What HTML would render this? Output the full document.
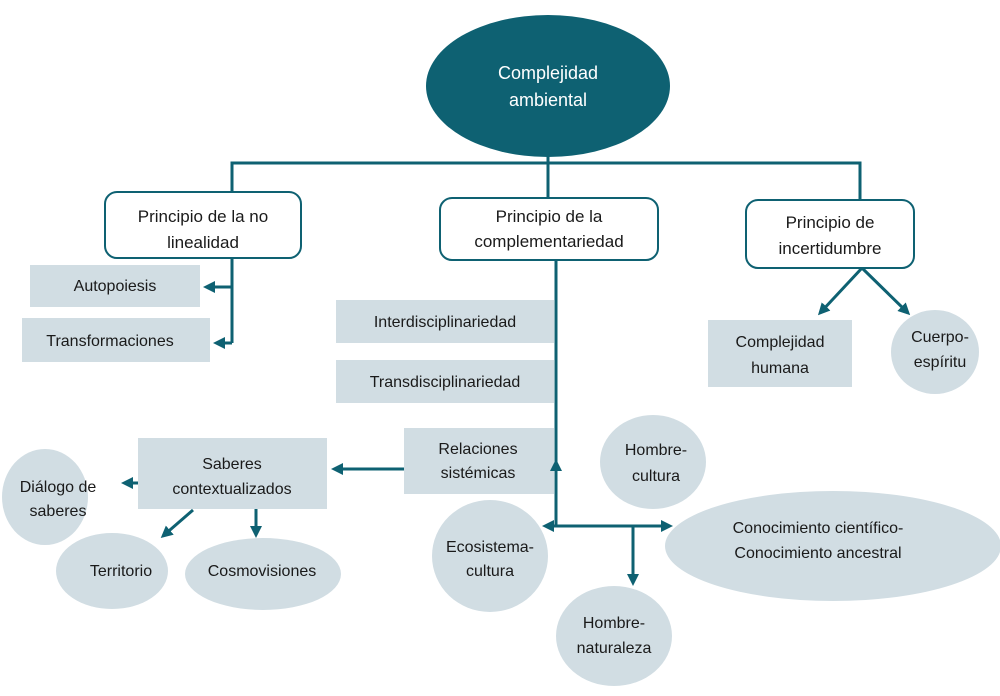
<!DOCTYPE html>
<html><head><meta charset="utf-8"><style>
html,body{margin:0;padding:0;background:#fff;}
svg{display:block;}
text{font-family:"Liberation Sans",sans-serif;font-size:16px;fill:#1a1a1a;text-anchor:middle;}
</style></head><body>
<svg width="1000" height="696" viewBox="0 0 1000 696">
<defs>
<marker id="b" markerWidth="12" markerHeight="12" refX="9" refY="6" orient="auto" markerUnits="userSpaceOnUse"><path d="M0,0 L12,6 L0,12 Z" fill="#0e6172"/></marker>
</defs>
<ellipse cx="548" cy="86" rx="122" ry="71" fill="#0e6172"/>
<text x="548" y="79" style="fill:#fff;font-size:18px">Complejidad</text>
<text x="548" y="106" style="fill:#fff;font-size:18px">ambiental</text>
<g fill="#d1dde3">
<rect x="30" y="265" width="170" height="42"/>
<rect x="22" y="318" width="188" height="44"/>
<rect x="336" y="300" width="218" height="43"/>
<rect x="336" y="360" width="218" height="43"/>
<rect x="404" y="428" width="150" height="66"/>
<rect x="138" y="438" width="189" height="71"/>
<rect x="708" y="320" width="144" height="67"/>
<ellipse cx="45" cy="497" rx="43" ry="48"/>
<ellipse cx="112" cy="571" rx="56" ry="38"/>
<ellipse cx="263" cy="574" rx="78" ry="36"/>
<ellipse cx="490" cy="556" rx="58" ry="56"/>
<ellipse cx="653" cy="462" rx="53" ry="47"/>
<ellipse cx="833" cy="546" rx="168" ry="55"/>
<ellipse cx="614" cy="636" rx="58" ry="50"/>
<ellipse cx="935" cy="352" rx="44" ry="42"/>
</g>
<g stroke="#0e6172" stroke-width="3" fill="none">
<path d="M232 192 V163 H860 V200"/>
<path d="M548 150 V200"/>
<path d="M232 258 V343"/>
<path d="M232 287 H206" marker-end="url(#b)"/>
<path d="M232 343 H216" marker-end="url(#b)"/>
<path d="M556 260 V526"/>
<path d="M556 480 V462" marker-end="url(#b)"/>
<path d="M404 469 H334" marker-end="url(#b)"/>
<path d="M138 483 H124" marker-end="url(#b)"/>
<path d="M193 510 L163 536" marker-end="url(#b)"/>
<path d="M256 509 V535" marker-end="url(#b)"/>
<path d="M556 526 H545" marker-end="url(#b)"/>
<path d="M556 526 H670" marker-end="url(#b)"/>
<path d="M633 526 V583" marker-end="url(#b)"/>
<path d="M862 268 L820 313" marker-end="url(#b)"/>
<path d="M862 268 L908 313" marker-end="url(#b)"/>
</g>
<g fill="#fff" stroke="#0e6172" stroke-width="2">
<rect x="105" y="192" width="196" height="66" rx="12"/>
<rect x="440" y="198" width="218" height="62" rx="12"/>
<rect x="746" y="200" width="168" height="68" rx="12"/>
</g>
<text x="203" y="222" style="font-size:17px">Principio de la no</text>
<text x="203" y="248" style="font-size:17px">linealidad</text>
<text x="549" y="222" style="font-size:17px">Principio de la</text>
<text x="549" y="247" style="font-size:17px">complementariedad</text>
<text x="830" y="228" style="font-size:17px">Principio de</text>
<text x="830" y="254" style="font-size:17px">incertidumbre</text>
<text x="115" y="291">Autopoiesis</text>
<text x="110" y="346">Transformaciones</text>
<text x="445" y="327">Interdisciplinariedad</text>
<text x="445" y="387">Transdisciplinariedad</text>
<text x="478" y="454">Relaciones</text>
<text x="478" y="478">sistémicas</text>
<text x="232" y="469">Saberes</text>
<text x="232" y="494">contextualizados</text>
<text x="58" y="492">Diálogo de</text>
<text x="58" y="516">saberes</text>
<text x="121" y="576">Territorio</text>
<text x="262" y="576">Cosmovisiones</text>
<text x="490" y="552">Ecosistema-</text>
<text x="490" y="576">cultura</text>
<text x="656" y="455">Hombre-</text>
<text x="656" y="481">cultura</text>
<text x="818" y="533">Conocimiento científico-</text>
<text x="818" y="558">Conocimiento ancestral</text>
<text x="614" y="628">Hombre-</text>
<text x="614" y="653">naturaleza</text>
<text x="780" y="347">Complejidad</text>
<text x="780" y="373">humana</text>
<text x="940" y="342">Cuerpo-</text>
<text x="940" y="367">espíritu</text>
</svg>
</body></html>
